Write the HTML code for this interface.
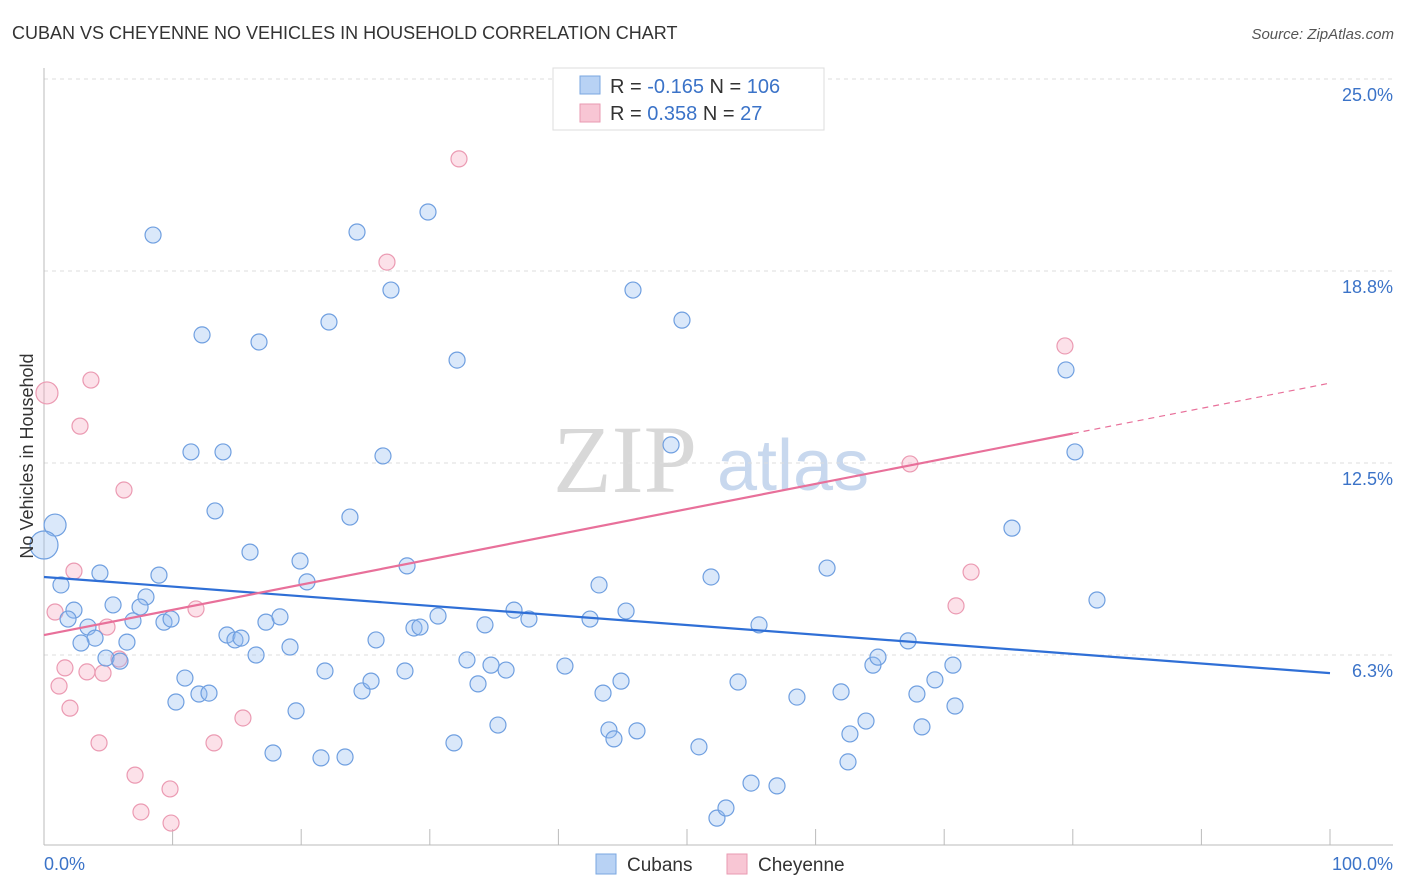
<!DOCTYPE html>
<html><head><meta charset="utf-8">
<style>
body{margin:0;background:#fff;font-family:"Liberation Sans",sans-serif;}
svg{display:block}
</style></head>
<body>
<svg width="1406" height="892" viewBox="0 0 1406 892">
<text x="12" y="39" font-size="18" fill="#333">CUBAN VS CHEYENNE NO VEHICLES IN HOUSEHOLD CORRELATION CHART</text>
<text x="1394" y="39" font-size="15" fill="#555" font-style="italic" text-anchor="end">Source: ZipAtlas.com</text>
<g>
<text x="553" y="492" font-family="Liberation Serif,serif" font-size="96" fill="#d8d8d8">ZIP</text>
<text x="717" y="490" font-size="72" fill="#c8d8ee">atlas</text>
</g>
<g id="grid"></g>
<g id="axes"></g>
<g id="marks"></g>
<text transform="translate(33,456) rotate(-90)" font-size="18" fill="#333" text-anchor="middle">No Vehicles in Household</text>
<g>
<rect x="553" y="68" width="271" height="62" fill="#fff" stroke="#ddd"/>
<rect x="580" y="76" width="20" height="18" fill="#b8d2f4" stroke="#7aa7e0"/>
<rect x="580" y="104" width="20" height="18" fill="#f8c6d4" stroke="#e99ab2"/>
<text x="610" y="93" font-size="20" fill="#333">R = <tspan fill="#3b73c8">-0.165</tspan>   N = <tspan fill="#3b73c8">106</tspan></text>
<text x="610" y="120" font-size="20" fill="#333">R =  <tspan fill="#3b73c8">0.358</tspan>   N =   <tspan fill="#3b73c8">27</tspan></text>
</g>
<g>
<rect x="596" y="854" width="20" height="20" fill="#b8d2f4" stroke="#7aa7e0"/>
<text x="627" y="871" font-size="19" fill="#333">Cubans</text>
<rect x="727" y="854" width="20" height="20" fill="#f8c6d4" stroke="#e99ab2"/>
<text x="758" y="871" font-size="19" fill="#333">Cheyenne</text>
</g>
</svg>
<script>
const yTicks=[6.25,12.5,18.75,25];
const yTickLabels=["6.3%","12.5%","18.8%","25.0%"];
const xTickLabels=["0.0%","100.0%"];
const cubanX=[0.86,0,1.32,2.33,1.87,4.35,3.42,3.97,2.88,5.37,4.82,5.91,6.45,6.92,7.93,7.47,8.94,9.33,9.88,8.48,12.29,11.43,13.92,13.30,16.02,16.72,10.96,10.26,12.05,12.83,14.23,14.85,15.32,16.49,17.26,18.35,19.13,19.91,20.45,19.60,17.81,21.54,23.41,22.16,24.34,23.79,26.98,26.36,21.85,24.73,25.43,25.82,28.07,28.23,28.77,29.24,30.64,29.86,32.12,31.88,32.89,33.75,34.29,34.76,35.93,35.30,36.55,37.71,40.51,42.46,43.16,43.47,44.87,45.26,43.93,44.32,46.11,45.80,48.76,49.61,50.93,51.87,52.33,53.03,53.97,54.98,55.60,57.00,58.55,60.89,61.98,62.52,62.67,63.92,64.46,64.85,67.19,67.88,68.27,69.28,70.68,70.84,75.27,79.47,80.17,81.88];
const cubanY=[10.48,9.83,8.53,7.71,7.42,8.92,7.16,6.80,6.64,7.88,6.15,6.05,6.67,7.36,8.14,7.81,8.85,7.32,7.42,19.92,16.67,12.86,12.86,10.94,9.60,16.44,5.50,4.72,4.98,5.01,6.90,6.74,6.80,6.25,7.32,7.49,6.51,9.31,8.63,4.43,3.06,2.90,2.93,17.09,20.02,10.74,18.13,12.73,5.73,5.08,5.40,6.74,5.73,9.15,7.13,7.16,7.52,20.67,15.85,3.39,6.09,5.31,7.23,5.92,5.76,3.97,7.71,7.42,5.89,7.42,8.53,5.01,5.40,7.68,3.81,3.52,3.78,18.13,13.09,17.15,3.26,8.79,0.94,1.27,5.37,2.08,7.23,1.99,4.88,9.08,5.05,2.77,3.68,4.10,5.92,6.18,6.71,4.98,3.91,5.44,5.92,4.59,10.38,15.53,12.86,8.04];
const cubanSize=[1.5,2.2];
const cheyX=[0.23,0.86,1.17,1.63,2.02,2.33,2.80,3.34,3.65,4.28,4.59,4.90,5.83,6.22,7.08,7.54,9.80,9.88,11.82,13.22,15.47,26.67,32.27,67.34,70.92,72.09,79.39];
const cheyY=[14.78,7.65,5.24,5.83,4.52,8.98,13.70,5.70,15.20,3.39,5.66,7.16,6.12,11.62,2.34,1.14,1.89,0.78,7.75,3.39,4.20,19.04,22.40,12.47,7.85,8.95,16.31];
const cubanTrend=[8.79,5.66];
const cheyTrend=[6.90,15.10];
const cheyTrendSolidEnd=80;

const NS="http://www.w3.org/2000/svg";
const X0=44,X1=1330,Y0=847,PY=30.72;
function sx(v){return X0+(X1-X0)*v/100;}
function sy(v){return Y0-v*PY;}
function mk(tag,attrs,parent){const e=document.createElementNS(NS,tag);for(const k in attrs)e.setAttribute(k,attrs[k]);parent.appendChild(e);return e;}
const grid=document.getElementById('grid'),axes=document.getElementById('axes'),marks=document.getElementById('marks');

yTicks.forEach((t,i)=>{
 const l=mk('line',{x1:44,x2:1393,y1:sy(t),y2:sy(t),stroke:'#ddd','stroke-dasharray':'4,4'},grid);
 
 
 const tx=mk('text',{x:1393,y:sy(t)+22,'font-size':18,fill:'#3b73c8','text-anchor':'end'},axes);
 tx.textContent=yTickLabels[i];
 
 
});
let a=mk('line',{x1:44,x2:44,y1:68,y2:845,stroke:'#bbb'},axes);


a=mk('line',{x1:44,x2:1393,y1:845,y2:845,stroke:'#bbb'},axes);


for(let i=0;i<=10;i++){
 const t=mk('line',{x1:sx(i*10),x2:sx(i*10),y1:829,y2:845,stroke:'#bbb'},axes);
 
 
}
[[0,'start',44],[100,'end',1393]].forEach((d,i)=>{
 const t=mk('text',{x:d[2],y:870,'font-size':18,fill:'#3b73c8','text-anchor':d[1]},axes);
 t.textContent=xTickLabels[i];
 
 
});

cheyX.forEach((x,i)=>{
 const c=mk('circle',{cx:sx(x),cy:sy(cheyY[i]),r:i==0?11:8,fill:'rgba(246,170,192,0.35)',stroke:'#eb9ab2','stroke-width':1.2},marks);
 
 
});
cubanX.forEach((x,i)=>{
 const c=mk('circle',{cx:sx(x),cy:sy(cubanY[i]),r:i==0?11:(i==1?14:8),fill:'rgba(150,190,240,0.35)',stroke:'#6f9fe0','stroke-width':1.2},marks);
 
 
});
let l=mk('line',{x1:sx(0),y1:sy(cubanTrend[0]),x2:sx(100),y2:sy(cubanTrend[1]),stroke:'#2f6fd6','stroke-width':2.2},marks);


const ym=cheyTrend[0]+(cheyTrend[1]-cheyTrend[0])*cheyTrendSolidEnd/100;
l=mk('line',{x1:sx(0),y1:sy(cheyTrend[0]),x2:sx(cheyTrendSolidEnd),y2:sy(ym),stroke:'#e8709a','stroke-width':2.2},marks);


l=mk('line',{x1:sx(cheyTrendSolidEnd),y1:sy(ym),x2:sx(100),y2:sy(cheyTrend[1]),stroke:'#e8709a','stroke-width':1.2,'stroke-dasharray':'6,5'},marks);


</script>
</body></html>
